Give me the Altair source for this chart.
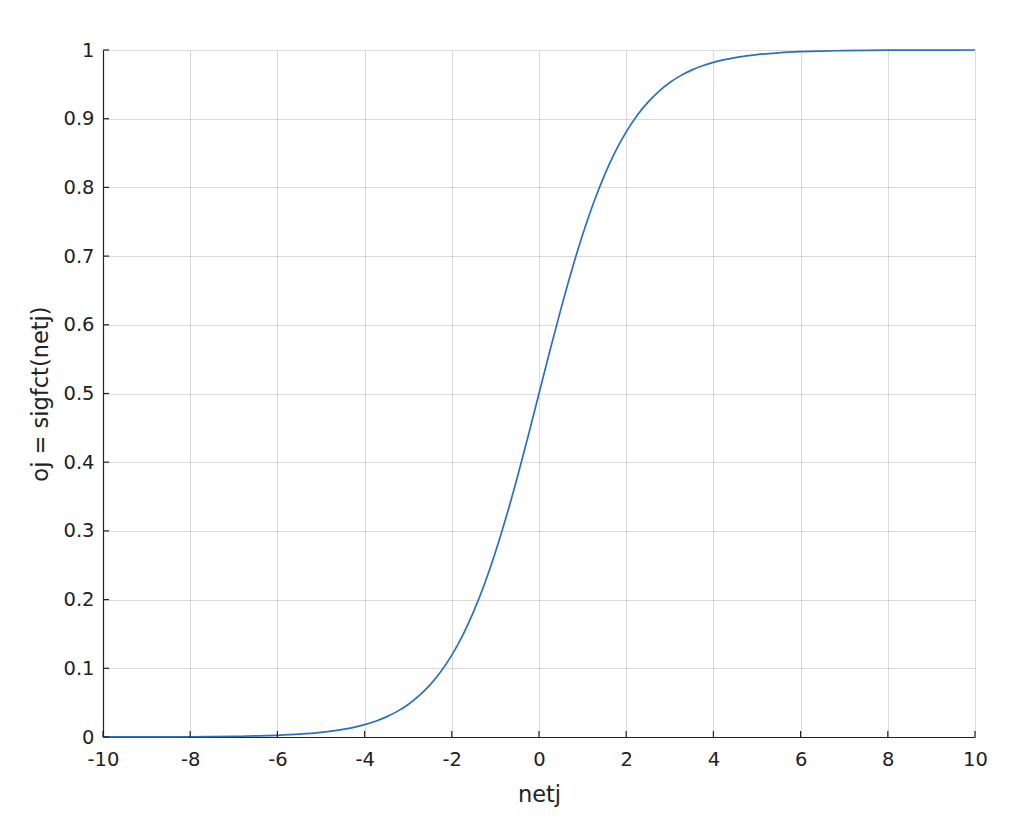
import altair as alt
import pandas as pd

netj = [-10, -9, -8, -7, -6.5, -6, -5.5, -5, -4.5, -4, -3.75, -3.5, -3.25, -3,
        -2.75, -2.5, -2.25, -2, -1.75, -1.5, -1.25, -1, -0.75, -0.5, -0.25,
        0, 0.25, 0.5, 0.75, 1, 1.25, 1.5, 1.75, 2, 2.25, 2.5, 2.75, 3, 3.25,
        3.5, 3.75, 4, 4.5, 5, 5.5, 6, 6.5, 7, 8, 9, 10]
oj = [0.00005, 0.00012, 0.00034, 0.0009, 0.0015, 0.0025, 0.0041, 0.0067,
      0.0110, 0.0180, 0.0230, 0.0293, 0.0373, 0.0474, 0.0601, 0.0759, 0.0953,
      0.1192, 0.1480, 0.1824, 0.2227, 0.2689, 0.3208, 0.3775, 0.4378, 0.5,
      0.5622, 0.6225, 0.6792, 0.7311, 0.7773, 0.8176, 0.8520, 0.8808, 0.9047,
      0.9241, 0.9399, 0.9526, 0.9627, 0.9707, 0.9770, 0.9820, 0.9890, 0.9933,
      0.9959, 0.9975, 0.9985, 0.9991, 0.9997, 0.9999, 1.0]
x_ticks = [-10, -8, -6, -4, -2, 0, 2, 4, 6, 8, 10]
y_ticks = [0, 0.1, 0.2, 0.3, 0.4, 0.5, 0.6, 0.7, 0.8, 0.9, 1]

W, H = 872, 687
FONT = "DejaVu Sans"
AXC = "#222222"
LFS = 19.5
TFS = 22.5

df = pd.DataFrame({"netj": netj, "oj": oj})
xt = pd.DataFrame({"v": x_ticks})
yt = pd.DataFrame({"v": y_ticks})

xscale = alt.Scale(domain=[-10, 10], nice=False, zero=False)
yscale = alt.Scale(domain=[0, 1], nice=False, zero=False)

line = alt.Chart(df).mark_line(color="#2a70bf", strokeWidth=1.7, interpolate="monotone").encode(
    x=alt.X("netj:Q", scale=xscale,
            axis=alt.Axis(values=x_ticks, title="netj", labelExpr="'' + datum.value",
                          tickSize=0, labelPadding=13, domainColor=AXC, domainWidth=1.2,
                          gridColor="#000000", gridOpacity=0.14, labelFontSize=LFS,
                          titleFontSize=TFS, titlePadding=15, labelColor=AXC, titleColor=AXC,
                          labelFont=FONT, titleFont=FONT, titleFontWeight="normal",
                          labelFlush=False)),
    y=alt.Y("oj:Q", scale=yscale,
            axis=alt.Axis(values=y_ticks, title="oj = sigfct(netj)", labelExpr="'' + datum.value",
                          tickSize=0, labelPadding=9, domainColor=AXC, domainWidth=1.2,
                          gridColor="#000000", gridOpacity=0.14, labelFontSize=LFS,
                          titleFontSize=TFS, titlePadding=10, labelColor=AXC, titleColor=AXC,
                          labelFont=FONT, titleFont=FONT, titleFontWeight="normal",
                          labelFlush=False)),
)

xtick_marks = alt.Chart(xt).mark_rule(color=AXC, strokeWidth=1.2).encode(
    x=alt.X("v:Q", scale=xscale),
    y=alt.value(H),
    y2=alt.value(H - 6),
)
ytick_marks = alt.Chart(yt).mark_rule(color=AXC, strokeWidth=1.2).encode(
    y=alt.Y("v:Q", scale=yscale),
    x=alt.value(0),
    x2=alt.value(6),
)

chart = alt.layer(line, xtick_marks, ytick_marks).properties(
    width=W, height=H,
    autosize=alt.AutoSizeParams(type="none"),
    padding={"left": 95, "top": 42, "right": 30, "bottom": 90},
).configure_view(stroke=None)

chart.save("out.html", embed_options={"renderer": "svg", "actions": False})
